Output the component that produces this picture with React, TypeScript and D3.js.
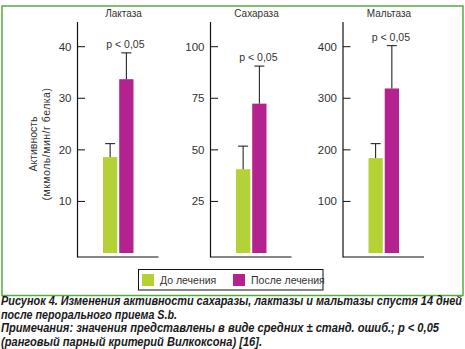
import React from "react";
import * as d3 from "d3";

const panelTitles = ["Лактаза", "Сахараза", "Мальтаза"];
const tickValues = [
  [10, 20, 30, 40],
  [25, 50, 75, 100],
  [100, 200, 300, 400],
];
const beforeMeans = [18.6, 40.6, 184];
const beforeErr = [2.6, 11.2, 28];
const afterMeans = [33.7, 72.4, 319];
const afterErr = [5.1, 18.2, 83];
const pLabels = ["p < 0,05", "p < 0,05", "p < 0,05"];
const groups = ["До лечения", "После лечения"];
const captionLines = [
  "Рисунок 4. Изменения активности сахаразы, лактазы и мальтазы спустя 14 дней",
  "после перорального приема S.b.",
  "Примечания: значения представлены в виде средних ± станд. ошиб.; p < 0,05",
  "(ранговый парный критерий Вилкоксона) [16].",
];
const captionWidths = [461, 176, 438, 261];

const GREEN = "#b4d236";
const MAGENTA = "#b3228f";
const FRAME = "#55ac3c";
const TEXT = "#333";
const FONT = "Arial, 'Liberation Sans', sans-serif";

const axisXs = [77.5, 210.5, 343];
const zeroY = 253;
const topTickY = 46.7;
const axisTop = 22;
const xAxisY = 257;

export default function App() {
  const colors = [GREEN, MAGENTA];
  return (
    <svg
      width={465}
      height={349}
      style={{ position: "absolute", left: 0, top: 0, background: "#fff" }}
      fontFamily={FONT}
    >
      <rect x={0} y={0} width={465} height={349} fill="#fff" />
      {/* frame */}
      <rect x={2} y={6} width={461} height={289.5} fill="none" stroke={FRAME} strokeWidth={1.5} />

      {panelTitles.map((title, i) => {
        const x0 = axisXs[i];
        const tv = tickValues[i];
        const y = d3.scaleLinear().domain([0, tv[tv.length - 1]]).range([zeroY, topTickY]);
        const xb = d3.scaleBand<string>().domain(groups).range([x0 + 25.5, x0 + 56]).paddingInner(0.12);
        const means = [beforeMeans[i], afterMeans[i]];
        const errs = [beforeErr[i], afterErr[i]];
        const bw = xb.bandwidth();
        const afterX = (xb(groups[1]) as number) + bw / 2;
        const afterTop = y(afterMeans[i] + afterErr[i]);
        return (
          <g key={title}>
            <text x={x0 + 46} y={17} textAnchor="middle" fontSize={10} fill={TEXT}>
              {title}
            </text>
            <line x1={x0} x2={x0} y1={axisTop} y2={xAxisY + 0.5} stroke="#111" strokeWidth={1.2} />
            <line x1={x0} x2={x0 + 81} y1={xAxisY} y2={xAxisY} stroke="#111" strokeWidth={1.2} />
            {tv.map((t) => (
              <g key={t}>
                <line x1={x0} x2={x0 + 7.5} y1={y(t)} y2={y(t)} stroke="#111" strokeWidth={1} />
                <text x={x0 - 6} y={y(t) + 4} textAnchor="end" fontSize={11.5} fill={TEXT}>
                  {t}
                </text>
              </g>
            ))}
            {groups.map((g, j) => {
              const bx = xb(g) as number;
              const cx = bx + bw / 2;
              const top = y(means[j]);
              const et = y(means[j] + errs[j]);
              return (
                <g key={g}>
                  <rect x={bx} y={top} width={bw} height={zeroY - top} fill={colors[j]} />
                  <line x1={cx} x2={cx} y1={top} y2={et} stroke="#111" strokeWidth={1} />
                  <line x1={cx - 5} x2={cx + 5} y1={et} y2={et} stroke="#111" strokeWidth={1} />
                </g>
              );
            })}
            <text x={afterX - 1} y={afterTop - 5} textAnchor="middle" fontSize={10.5} fill={TEXT}>
              {pLabels[i]}
            </text>
          </g>
        );
      })}

      {/* y-axis title */}
      <g transform="translate(37,144) rotate(-90)">
        <text x={0} y={0} textAnchor="middle" fontSize={10.5} fill={TEXT}>
          Активность
        </text>
        <text x={0} y={13} textAnchor="middle" fontSize={10.5} letterSpacing={0.5} fill={TEXT}>
          (мкмоль/мин/г белка)
        </text>
      </g>

      {/* legend */}
      <rect x={138.5} y={269.5} width={184.5} height={20.5} fill="#fff" stroke="#111" strokeWidth={1} />
      {groups.map((g, j) => {
        const lx = [142, 233][j];
        return (
          <g key={g}>
            <rect x={lx} y={274} width={12} height={12} fill={colors[j]} />
            <text x={lx + 18} y={284} fontSize={10.5} fill={TEXT}>
              {g}
            </text>
          </g>
        );
      })}

      {/* caption */}
      {captionLines.map((line, k) => (
        <text
          key={k}
          x={1}
          y={305 + k * 13.6}
          fontSize={12}
          fontWeight="bold"
          fontStyle="italic"
          fill="#1a1a1a"
          textLength={captionWidths[k]}
          lengthAdjust="spacingAndGlyphs"
        >
          {line}
        </text>
      ))}
    </svg>
  );
}
